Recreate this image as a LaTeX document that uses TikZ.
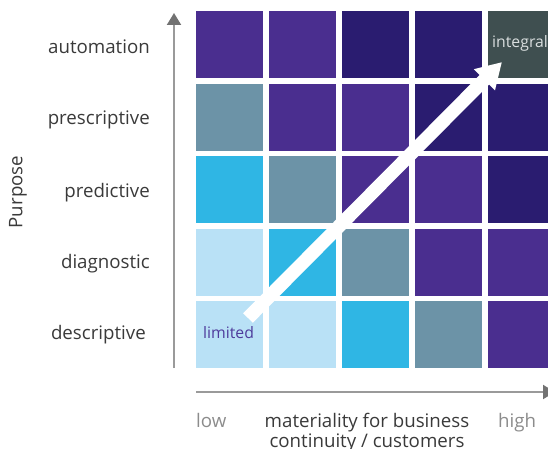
\documentclass[tikz,border=0pt]{standalone}
\usepackage{fontspec}
\setmainfont{Open Sans}
\usetikzlibrary{arrows.meta}

\definecolor{cpurple}{HTML}{4A2E8F}
\definecolor{cnavy}{HTML}{2A1C70}
\definecolor{csteel}{HTML}{6C93A7}
\definecolor{ccyan}{HTML}{2FB6E4}
\definecolor{clight}{HTML}{B9E1F6}
\definecolor{cslate}{HTML}{3F4F50}
\definecolor{labelgray}{HTML}{3A3A3A}
\definecolor{endgray}{HTML}{8C8C8C}
\definecolor{axisline}{HTML}{9A9A9A}
\definecolor{axishead}{HTML}{727272}
\definecolor{limitedtext}{HTML}{4E3C9C}
\definecolor{integraltext}{HTML}{D9DEDE}

\tikzset{
  cell/.style={draw=none, minimum width=67pt, minimum height=67pt, inner sep=0pt, anchor=north west},
  labelfont/.style={font=\fontsize{18.7}{22}\selectfont, inner sep=0pt},
  smallfont/.style={font=\fontsize{15.8}{19}\selectfont, inner sep=0pt},
  rowlabel/.style={labelfont, text=labelgray, anchor=base east},
  axisarrow/.style={draw=axisline, line width=2pt, -{Triangle[length=12pt,width=14pt,color=axishead]}},
  trendarrow/.style={draw=white, line width=13.5pt, -{Triangle[length=25pt,width=28pt]}},
}

\begin{document}
\begin{tikzpicture}[x=1pt, y=-1pt]
  \useasboundingbox (0,0) rectangle (548,449);
  \clip (0,0) rectangle (548,449);

  % 5x5 grid of coloured cells, rows top (automation) to bottom (descriptive)
  \foreach \row/\cols in {
      0/{cpurple,cpurple,cnavy,cnavy,cslate},
      1/{csteel,cpurple,cpurple,cnavy,cnavy},
      2/{ccyan,csteel,cpurple,cpurple,cnavy},
      3/{clight,ccyan,csteel,cpurple,cpurple},
      4/{clight,clight,ccyan,csteel,cpurple}} {
    \foreach \c [count=\col from 0] in \cols {
      \node[cell, fill=\c] (c-\row-\col) at ({196+73*\col},{11+72.5*\row}) {};
    }
  }

  % row labels
  \node[rowlabel] (l-auto)  at (150,54)  {automation};
  \node[rowlabel] (l-presc) at (150,125) {prescriptive};
  \node[rowlabel] (l-pred)  at (150,197) {predictive};
  \node[rowlabel] (l-diag)  at (150,268) {diagnostic};
  \node[rowlabel] (l-desc)  at (146,339) {descriptive};

  \node[labelfont, text=labelgray, rotate=90] (purpose) at (18,192) {Purpose};

  % axes
  \coordinate (vbot) at (174,368);
  \coordinate (vtop) at (174,13);
  \coordinate (hleft) at (196,392);
  \coordinate (hright) at (555,392);
  \draw[axisarrow] (vbot) -- (vtop);
  \draw[axisarrow] (hleft) -- (hright);

  % axis captions
  \node[labelfont, text=endgray, anchor=base west] (low) at (196,427) {low};
  \node[labelfont, text=endgray, anchor=base west] (high) at (498,427) {high};
  \node[labelfont, text=labelgray, anchor=base] (xlab1) at (367,427) {materiality for business};
  \node[labelfont, text=labelgray, anchor=base] (xlab2) at (367,447) {continuity / customers};

  % corner labels
  \node[smallfont, text=limitedtext, anchor=base west] (limited) at (203,338) {limited};
  \node[smallfont, text=integraltext, anchor=base west] (integral) at (492,48) {integral};

  % diagonal trend arrow
  \coordinate (tail) at (248,318);
  \coordinate (tip) at (502,62);
  \draw[trendarrow] (tail) -- (tip);
\end{tikzpicture}
\end{document}
